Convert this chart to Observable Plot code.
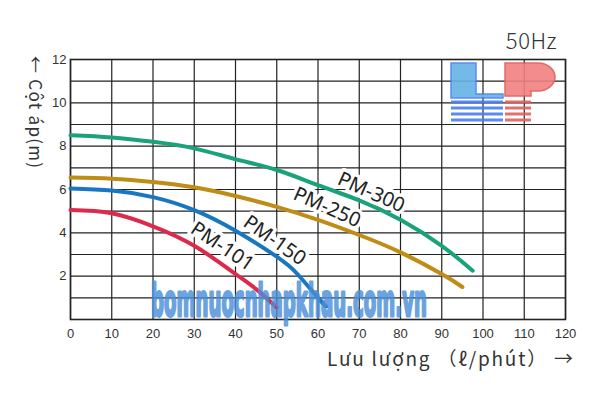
<!DOCTYPE html>
<html><head><meta charset="utf-8">
<script src="https://cdn.jsdelivr.net/npm/d3@7"></script>
<script src="https://cdn.jsdelivr.net/npm/@observablehq/plot@0.6"></script>
<style>body{margin:0;background:#fff}#chart{width:600px;height:400px}</style>
</head><body><div id="chart"></div>
<script>
// ---- data ----
const models = ["PM-101", "PM-150", "PM-250", "PM-300"];
const colors = ["#dc2a4c", "#1877c0", "#bf8c16", "#1aa27a"];
const flow101 = [0, 10, 20, 30, 40, 45, 50];
const head101 = [5.05, 4.9, 4.3, 3.4, 2.1, 1.4, 0.55];
const flow150 = [0, 10, 20, 30, 40, 50, 55, 60, 62];
const head150 = [6.05, 5.95, 5.65, 5.05, 4.1, 2.9, 2.1, 1.0, 0.6];
const flow250 = [0, 10, 20, 30, 40, 50, 60, 70, 80, 90, 95];
const head250 = [6.55, 6.5, 6.35, 6.1, 5.7, 5.2, 4.6, 3.9, 3.1, 2.1, 1.5];
const flow300 = [0, 10, 20, 30, 40, 50, 60, 70, 80, 90, 97.5];
const head300 = [8.5, 8.4, 8.2, 7.9, 7.4, 6.9, 6.2, 5.5, 4.6, 3.4, 2.25];
const labelX = [36.8, 49.5, 62.2, 72.9];
const labelY = [3.37, 3.65, 5.18, 5.87];
const labelAngle = [34, 35, 24, 24];
const xTicks = [0, 10, 20, 30, 40, 50, 60, 70, 80, 90, 100, 110, 120];
const yTicks = [2, 4, 6, 8, 10, 12];
const yGrid = [0, 1, 2, 3, 4, 5, 6, 7, 8, 9, 10, 11, 12];
const xTitle = "Lưu lượng （ℓ/phút） →";
const yTitle = "← Cột áp(m)";
const freqLabel = "50Hz";
const watermark = "bomnuocnhapkhau.com.vn";

const series = [[flow101, head101], [flow150, head150], [flow250, head250], [flow300, head300]];
const curves = series.flatMap(([fx, hy], i) => fx.map((x, j) => ({model: models[i], flow: x, head: hy[j]})));
const labels = models.map((m, i) => ({model: m, x: labelX[i], y: labelY[i], a: labelAngle[i]}));

const chart = Plot.plot({
  width: 600, height: 400,
  marginLeft: 70, marginRight: 35, marginTop: 59, marginBottom: 81,
  style: {fontFamily: "'Liberation Sans', Arial, sans-serif", fontSize: "13px", color: "#333", background: "#fff"},
  x: {domain: [0, 120], ticks: xTicks, tickSize: 0, tickPadding: 9, label: null},
  y: {domain: [0, 12], ticks: yTicks, tickSize: 0, tickPadding: 4, label: null},
  color: {domain: models, range: colors},
  marks: [
    Plot.ruleX(xTicks, {stroke: "#222", strokeWidth: 1.2}),
    Plot.ruleY(yGrid, {stroke: "#222", strokeWidth: 1.2}),
    Plot.frame({stroke: "#222", strokeWidth: 1.6}),
    Plot.line(curves, {x: "flow", y: "head", z: "model", stroke: "model", strokeWidth: 4, curve: "natural"}),
    Plot.text(labels, {x: "x", y: "y", text: "model", rotate: "a", fontSize: 20, fill: "#222",
      stroke: "white", strokeWidth: 7, fontFamily: "'Noto Sans', sans-serif"})
  ]
});
document.getElementById("chart").appendChild(chart);

const svg = d3.select(chart);
// logo
const logo = svg.append("g").attr("opacity", 0.9);
logo.append("path").attr("d", "M451,63 H476 V94 H503 V98 H451 Z").attr("fill", "#66b3e6").attr("stroke", "#4d7ff0").attr("stroke-width", 1.5);
logo.append("path").attr("d", "M505,63 H538 A17,14 0 0 1 538,91 H531 V96 H505 Z").attr("fill", "#f28080").attr("stroke", "#e05a5a").attr("stroke-width", 1.5);
[100.5, 106.5, 112.5, 118.5].forEach(y => {
  logo.append("rect").attr("x", 451).attr("y", y).attr("width", 52).attr("height", 3).attr("fill", "#4a7ff0");
  logo.append("rect").attr("x", 505).attr("y", y).attr("width", 26).attr("height", 3).attr("fill", "#e06060");
});
// watermark
svg.append("text").attr("x", 151).attr("y", 316).attr("text-anchor", "start")
  .attr("textLength", 276).attr("lengthAdjust", "spacingAndGlyphs")
  .attr("font-family", "'DejaVu Sans', sans-serif").attr("font-weight", 700)
  .attr("font-size", 44).attr("fill", "#4a8fd8").attr("stroke", "#4a8fd8").attr("stroke-width", 3)
  .attr("stroke-linejoin", "round").attr("opacity", 0.82).text(watermark);
// titles
svg.append("text").attr("x", 327).attr("y", 366).attr("text-anchor", "start")
  .attr("textLength", 246).attr("lengthAdjust", "spacing")
  .attr("font-family", "'Noto Sans CJK JP', 'Noto Sans', sans-serif").attr("font-size", 19).attr("fill", "#333").text(xTitle);
svg.append("text").attr("transform", "translate(29,56) rotate(90)").attr("text-anchor", "start")
  .attr("textLength", 112).attr("lengthAdjust", "spacing")
  .attr("font-family", "'Noto Sans CJK JP', 'Noto Sans', sans-serif").attr("font-size", 17).attr("fill", "#333").text(yTitle);
svg.append("text").attr("x", 557).attr("y", 49).attr("text-anchor", "end")
  .attr("font-family", "'Noto Sans CJK JP', 'Noto Sans', sans-serif").attr("font-weight", 300).attr("font-size", 22).attr("letter-spacing", 0.5).attr("fill", "#333").text(freqLabel);
</script></body></html>
